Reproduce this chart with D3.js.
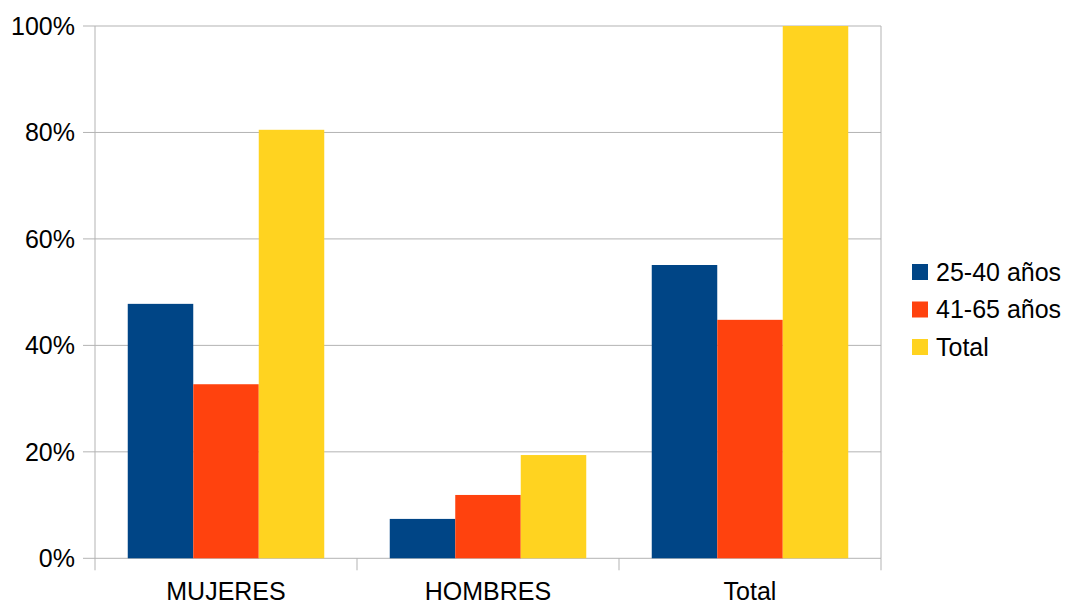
<!DOCTYPE html>
<html>
<head>
<meta charset="utf-8">
<script src="https://cdn.jsdelivr.net/npm/d3@7/dist/d3.min.js"></script>
<style>
  html, body { margin: 0; padding: 0; background: #fff; }
  svg { display: block; font-family: "Liberation Sans", Arial, sans-serif; }
</style>
</head>
<body>
<svg id="chart" width="1065" height="604"></svg>
<script>
// Categories, series and values (share of respondents)
const categories = ["MUJERES", "HOMBRES", "Total"];
const seriesNames = ["25-40 años", "41-65 años", "Total"];
const seriesColors = ["#004586", "#ff420e", "#ffd320"];
const values25to40 = [0.478, 0.074, 0.551];
const values41to65 = [0.327, 0.119, 0.448];
const valuesTotal = [0.805, 0.194, 1.0];
const yTicks = [0, 0.2, 0.4, 0.6, 0.8, 1.0];

const seriesValues = [values25to40, values41to65, valuesTotal];

const svg = d3.select("#chart");
const plot = { left: 95, right: 881, top: 26, bottom: 558.3 };
const gridColor = "#b3b3b3";

const x0 = d3.scaleBand().domain(categories).range([plot.left, plot.right]).paddingInner(0).paddingOuter(0);
const groupWidth = x0.bandwidth() * 0.75;
const x1 = d3.scaleBand().domain(seriesNames).range([0, groupWidth]).padding(0);
const y = d3.scaleLinear().domain([0, 1]).range([plot.bottom, plot.top]);

// Horizontal gridlines with short ticks to the left of the axis
svg.append("g").selectAll("line").data(yTicks).join("line")
  .attr("x1", plot.left - 12).attr("x2", plot.right)
  .attr("y1", d => y(d)).attr("y2", d => y(d))
  .attr("stroke", gridColor).attr("stroke-width", 1);

// Left and right frame lines
svg.append("line").attr("x1", plot.left).attr("x2", plot.left)
  .attr("y1", plot.top).attr("y2", plot.bottom)
  .attr("stroke", gridColor);
svg.append("line").attr("x1", plot.right).attr("x2", plot.right)
  .attr("y1", plot.top).attr("y2", plot.bottom)
  .attr("stroke", gridColor);

// Category boundary ticks below the axis
const boundaries = categories.map(c => x0(c)).concat([plot.right]);
svg.append("g").selectAll("line").data(boundaries).join("line")
  .attr("x1", d => d).attr("x2", d => d)
  .attr("y1", plot.bottom).attr("y2", plot.bottom + 12)
  .attr("stroke", gridColor);

// Bars
const groups = svg.append("g").selectAll("g").data(categories).join("g")
  .attr("transform", c => `translate(${x0(c) + (x0.bandwidth() - groupWidth) / 2},0)`);
groups.selectAll("rect")
  .data((c, i) => seriesNames.map((s, k) => ({ s, k, v: seriesValues[k][i] })))
  .join("rect")
  .attr("x", d => x1(d.s))
  .attr("width", x1.bandwidth())
  .attr("y", d => y(d.v))
  .attr("height", d => plot.bottom - y(d.v))
  .attr("fill", d => seriesColors[d.k]);

// Y tick labels
svg.append("g").selectAll("text").data(yTicks).join("text")
  .attr("x", 75).attr("y", d => y(d))
  .attr("dy", "0.35em")
  .attr("text-anchor", "end")
  .attr("font-size", 25)
  .attr("fill", "#000")
  .text(d => d3.format(".0%")(d));

// Category labels
svg.append("g").selectAll("text").data(categories).join("text")
  .attr("x", c => x0(c) + x0.bandwidth() / 2)
  .attr("y", 600)
  .attr("text-anchor", "middle")
  .attr("font-size", 25)
  .attr("fill", "#000")
  .text(c => c);

// Legend
const legend = svg.append("g").selectAll("g").data(seriesNames).join("g")
  .attr("transform", (d, i) => `translate(912,${272 + i * 37.5})`);
legend.append("rect")
  .attr("x", 0).attr("y", -8).attr("width", 16).attr("height", 16)
  .attr("fill", (d, i) => seriesColors[i]);
legend.append("text")
  .attr("x", 24).attr("y", 0).attr("dy", "0.35em")
  .attr("font-size", 25)
  .attr("fill", "#000")
  .text(d => d);
</script>
</body>
</html>
